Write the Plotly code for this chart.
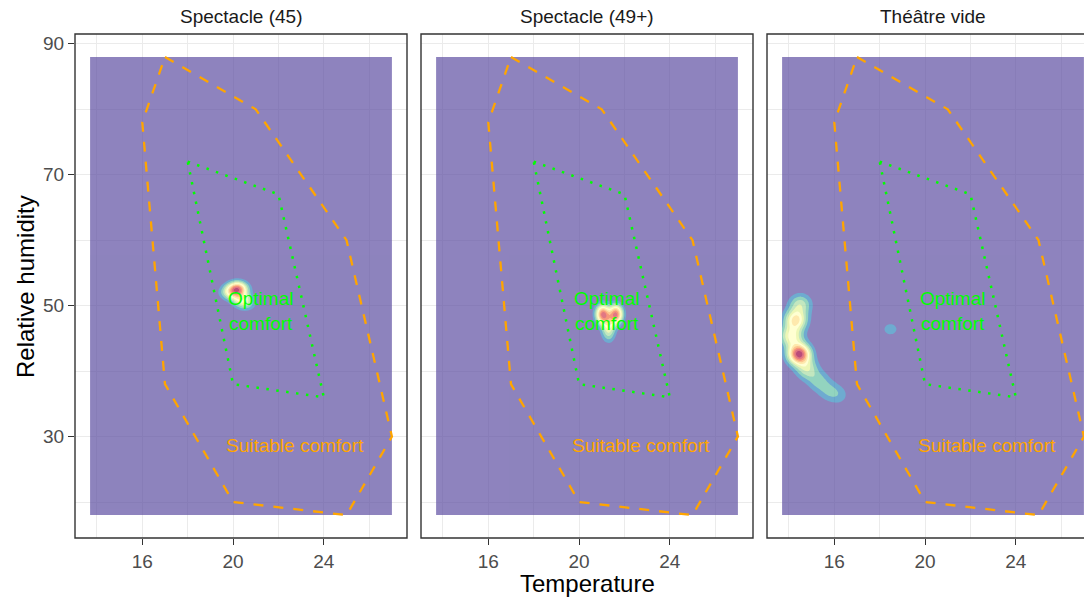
import numpy as np
import plotly.graph_objects as go

# ---------------- data ----------------
panels = ["Spectacle (45)", "Spectacle (49+)", "Théâtre vide"]

# comfort polygons (temperature, relative humidity)
suitable_temp = [17, 21, 25, 27, 25, 20, 17, 16, 17]
suitable_rh = [88, 80, 60, 30, 18, 20, 38, 78, 88]
optimal_temp = [18, 22, 24, 20, 18]
optimal_rh = [72, 67, 36, 38, 72]

# observation clusters per panel (temperature, humidity, weight)
obs_temp_45 = [20.2, 19.85, 20.35, 20.55]
obs_rh_45 = [52.6, 52.0, 51.1, 50.3]
obs_w_45 = [0.85, 0.35, 0.4, 0.25]

obs_temp_49 = [21.04, 21.63, 21.3, 21.3]
obs_rh_49 = [48.7, 48.7, 47.2, 45.7]
obs_w_49 = [0.9, 0.9, 0.35, 0.25]

obs_temp_vide = [14.5, 14.3, 14.1, 14.45, 14.8, 15.3, 15.75, 16.2, 18.33, 18.62]
obs_rh_vide = [50.2, 47.8, 45.3, 42.6, 40.3, 38.5, 37.0, 36.3, 46.4, 46.4]
obs_w_vide = [0.35, 0.62, 0.5, 1.05, 0.35, 0.22, 0.17, 0.13, 0.07, 0.07]

bw_temp = [0.3, 0.21, 0.34]
bw_rh = [0.75, 1.0, 1.1]

grid_temp_range = [13.7, 27.0]
grid_rh_range = [18, 88]

spectral = ['#5E4FA2', '#3288BD', '#66C2A5', '#ABDDA4', '#E6F598', '#FFFFBF',
            '#FEE08B', '#FDAE61', '#F46D43', '#D53E4F', '#9E0142']

x_ticks = [16, 20, 24]
x_minor = [14, 18, 22, 26]
y_ticks = [30, 50, 70, 90]
y_minor = [20, 40, 60, 80]

# ---------------- figure ----------------
obs = [(obs_temp_45, obs_rh_45, obs_w_45),
       (obs_temp_49, obs_rh_49, obs_w_49),
       (obs_temp_vide, obs_rh_vide, obs_w_vide)]

gx = np.linspace(grid_temp_range[0], grid_temp_range[1], 191)
gy = np.linspace(grid_rh_range[0], grid_rh_range[1], 281)
GX, GY = np.meshgrid(gx, gy)

fig = go.Figure()
cs = [[i / 10, c] for i, c in enumerate(spectral)]
xnames = ['x', 'x2', 'x3']
ynames = ['y', 'y2', 'y3']

for p in range(3):
    tx, ry, w = obs[p]
    z = np.zeros_like(GX)
    for a, b, c in zip(tx, ry, w):
        z += c * np.exp(-((GX - a) ** 2 / (2 * bw_temp[p] ** 2) + (GY - b) ** 2 / (2 * bw_rh[p] ** 2)))
    z = np.round(z, 4)
    fig.add_trace(go.Contour(
        x=gx, y=gy, z=z, xaxis=xnames[p], yaxis=ynames[p],
        colorscale=cs, autocontour=False,
        contours=dict(start=0.1, end=1.0, size=0.1, coloring='fill', showlines=False),
        line=dict(width=0), showscale=False, opacity=0.7, hoverinfo='skip'))
    fig.add_trace(go.Scatter(x=suitable_temp, y=suitable_rh, mode='lines',
                             line=dict(color='#FFA500', width=2.3, dash='10px,10px'),
                             xaxis=xnames[p], yaxis=ynames[p], showlegend=False))
    fig.add_trace(go.Scatter(x=optimal_temp, y=optimal_rh, mode='lines',
                             line=dict(color='#00FF00', width=2.5, dash='2.5px,7.5px'),
                             xaxis=xnames[p], yaxis=ynames[p], showlegend=False))
    fig.add_annotation(x=21.2, y=49.2, xref=xnames[p], yref=ynames[p],
                       text="Optimal<br>comfort", showarrow=False,
                       font=dict(color='#00FF00', size=19))
    fig.add_annotation(x=22.72, y=28.7, xref=xnames[p], yref=ynames[p],
                       text="Suitable comfort", showarrow=False,
                       font=dict(color='#FFA500', size=19))

W = 1084
L = 75
PW = W - L
doms = [[0, 332 / PW], [346 / PW, 678 / PW], [692 / PW, 1.0]]
xr_full = [13.035, 27.665]
xr_last = [13.035, 13.035 + 317 / (332 / (xr_full[1] - xr_full[0]))]
yr = [14.5, 91.5]

axfont = dict(size=19, color='#4D4D4D')
common_x = dict(tickvals=x_ticks, showgrid=True, gridcolor='#EBEBEB', gridwidth=1.4,
                zeroline=False, ticks='outside', ticklen=6, tickwidth=1.4, tickcolor='#333333',
                tickfont=axfont, showline=False,
                minor=dict(tickvals=x_minor, showgrid=True, gridcolor='#EBEBEB', gridwidth=0.8, ticks=''))
common_y = dict(tickvals=y_ticks, showgrid=True, gridcolor='#EBEBEB', gridwidth=1.4,
                zeroline=False, range=yr, showline=False,
                minor=dict(tickvals=y_minor, showgrid=True, gridcolor='#EBEBEB', gridwidth=0.8, ticks=''))

layout = dict(width=W, height=598, plot_bgcolor='white', paper_bgcolor='white',
              margin=dict(l=L, r=0, t=34, b=60), showlegend=False,
              font=dict(family='Liberation Sans, Arial, sans-serif'))
for i in range(3):
    sx = '' if i == 0 else str(i + 1)
    layout['xaxis' + sx] = dict(common_x, domain=doms[i], anchor='y' + sx,
                                range=xr_full if i < 2 else xr_last)
    ydict = dict(common_y, anchor='x' + sx)
    if i == 0:
        ydict.update(ticks='outside', ticklen=6, tickwidth=1.4, tickcolor='#333333', tickfont=axfont)
    else:
        ydict.update(showticklabels=False, ticks='', matches='y')
    layout['yaxis' + sx] = ydict
fig.update_layout(**layout)

# panel borders
for i in range(3):
    sx = '' if i == 0 else str(i + 1)
    fig.add_shape(type='rect', xref='x' + sx + ' domain', yref='y' + sx + ' domain',
                  x0=0, x1=1 if i < 2 else 1.2, y0=0, y1=1,
                  line=dict(color='#333333', width=1.4), layer='above')

# strip titles
centers = [(75 + 166), (421 + 166), (767 + 166)]
for i, name in enumerate(panels):
    fig.add_annotation(x=(centers[i] - L) / PW, y=(538 - 17) / 504, xref='paper', yref='paper',
                       text=name, showarrow=False, font=dict(size=19, color='#1A1A1A'),
                       xanchor='center', yanchor='middle')

fig.add_annotation(x=(587 - L) / PW, y=(538 - 583) / 504, xref='paper', yref='paper',
                   text='Temperature', showarrow=False, font=dict(size=24, color='black'),
                   xanchor='center', yanchor='middle')
fig.add_annotation(x=(25 - L) / PW, y=(538 - 287) / 504, xref='paper', yref='paper',
                   text='Relative humidity', showarrow=False, textangle=-90,
                   font=dict(size=24, color='black'), xanchor='center', yanchor='middle')

fig.write_html("out.html")
